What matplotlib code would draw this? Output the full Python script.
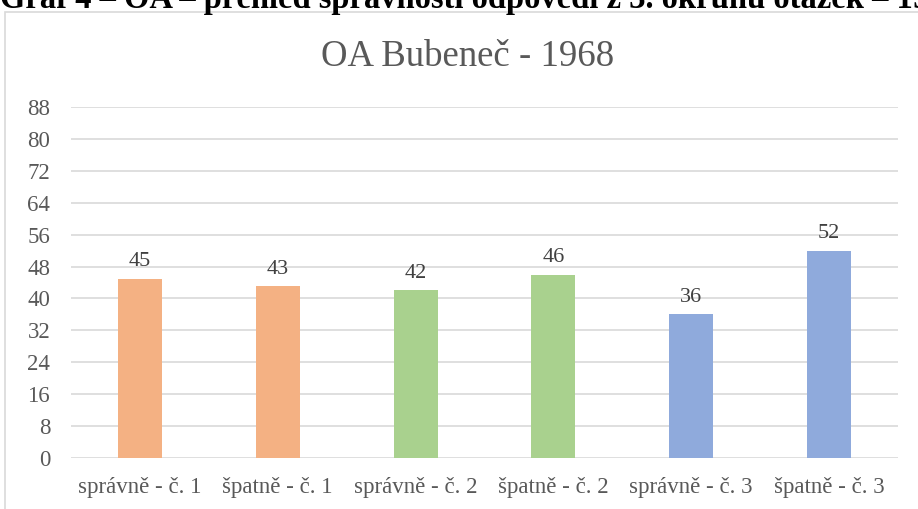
import matplotlib.pyplot as plt
from matplotlib.patches import Rectangle

categories = ['správně - č. 1', 'špatně - č. 1', 'správně - č. 2',
              'špatně - č. 2', 'správně - č. 3', 'špatně - č. 3']
values = [45, 43, 42, 46, 36, 52]
colors = ['#F4B183', '#F4B183', '#A9D18E', '#A9D18E', '#8FAADC', '#8FAADC']
yticks = list(range(0, 89, 8))

plt.rcParams['font.family'] = ['Liberation Serif', 'DejaVu Serif']

W, H = 918, 509
fig = plt.figure(figsize=(W / 100, H / 100), dpi=100)

# caption of the document, cut by the top edge
fig.text(0 / W, 1 - 8 / H,
         'Graf 4 – OA – přehled správnosti odpovědí z 3. okruhu otázek – 1968',
         fontsize=23.5, fontweight='bold', ha='left', va='baseline', color='black')

# chart frame
fig.patches.append(Rectangle((5 / W, -0.1), 1.2, 1 - 12 / H + 0.1,
                             transform=fig.transFigure, fill=False,
                             edgecolor='#D9D9D9', linewidth=1.2))

ax = fig.add_axes([71 / W, 1 - 458 / H, (898 - 71) / W, (458 - 107) / H])
x = range(len(categories))
bars = ax.bar(x, values, width=0.32, color=colors, zorder=3)
for i, v in enumerate(values):
    ax.text(i, v + 1.8, str(v), ha='center', va='bottom', fontsize=16, color='#404040')

ax.set_xlim(-0.5, 5.5)
ax.set_ylim(0, 88)
ax.set_yticks(yticks)
ax.set_xticks(list(x))
ax.set_xticklabels(categories)
ax.tick_params(axis='both', length=0, labelsize=16.5, colors='#595959')
ax.tick_params(axis='x', pad=14)
ax.tick_params(axis='y', pad=15)
ax.grid(axis='y', color='#D9D9D9', linewidth=1.2, zorder=0)
for s in ax.spines.values():
    s.set_visible(False)

fig.text(468 / W, 1 - 57 / H, 'OA Bubeneč - 1968', fontsize=26.5,
         color='#595959', ha='center', va='center')

fig.savefig('out.png', dpi=100)
